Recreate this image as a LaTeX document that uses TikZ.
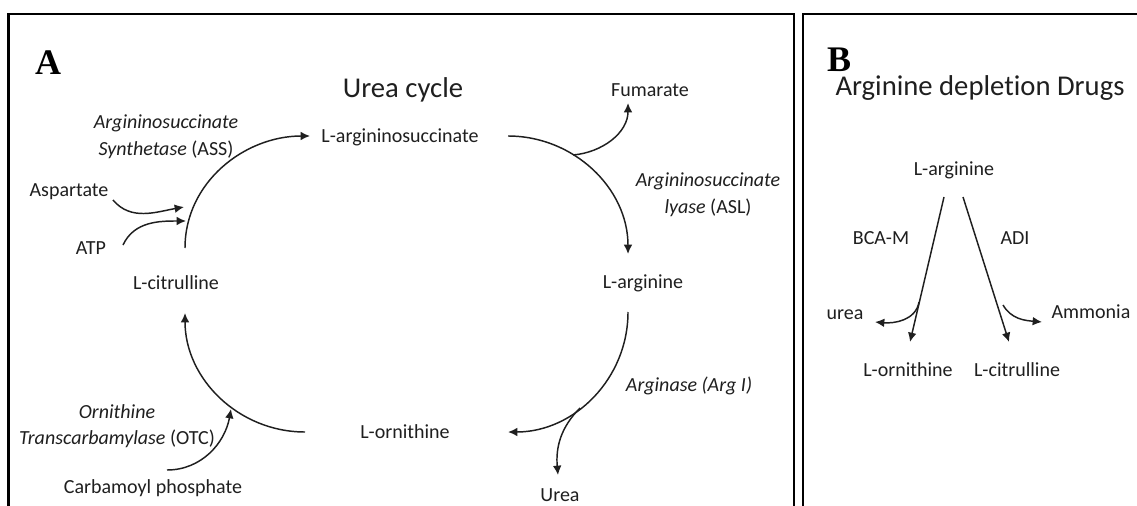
\documentclass[tikz,border=0pt]{standalone}
\usepackage{fontspec}
\setmainfont{Carlito}[Ligatures={NoCommon}]
\newfontfamily\panelfont{Liberation Serif}
\usetikzlibrary{arrows.meta}
\definecolor{txt}{gray}{0.12}
\begin{document}
\begin{tikzpicture}[x=0.75pt,y=-0.75pt,
  lbl/.style={inner sep=0pt, text=txt, font=\fontsize{15}{20}\selectfont},
  enz/.style={inner sep=0pt, text=txt, align=center, font=\fontsize{15}{20}\selectfont},
  ttl/.style={inner sep=0pt, text=txt, font=\fontsize{21.5}{26}\selectfont},
  panel/.style={inner sep=0pt, font=\panelfont\bfseries\fontsize{27}{32}\selectfont},
  conn/.style={line width=1.1pt, draw=txt, -{Latex[length=7pt,width=6.5pt]}},
  frame/.style={line width=2.2pt, draw=black}]
\clip (0,0) rectangle (1137,506);
\fill[white] (0,0) rectangle (1137,506);
% frames
\draw[frame] (8.5,530) -- (8.5,14) -- (794,14) -- (794,530);
\draw[frame] (803,530) -- (803,14) -- (1150,14);

% ---------- Panel A ----------
\node[panel] (A) at (48,63) {A};
\node[ttl] (ttlA) at (403,90) {Urea cycle};
\node[lbl] (asuc) at (400,137) {L-argininosuccinate};
\node[lbl] (fum) at (650,90) {Fumarate};
\node[enz] (asl) at (708,195) {\textit{Argininosuccinate}\\\textit{lyase} (ASL)};
\node[lbl] (arg) at (643,283) {L-arginine};
\node[enz] (argi) at (689,386) {\textit{Arginase (Arg I)}};
\node[lbl] (urea) at (560,495) {Urea};
\node[lbl] (orn) at (405,432) {L-ornithine};
\node[enz] (otc) at (117,426) {\textit{Ornithine}\\\textit{Transcarbamylase} (OTC)};
\node[lbl] (carb) at (153,488) {Carbamoyl phosphate};
\node[lbl] (cit) at (176,283) {L-citrulline};
\node[lbl] (asp) at (69,192) {Aspartate};
\node[lbl] (atp) at (91,248) {ATP};
\node[enz] (ass) at (166,137) {\textit{Argininosuccinate}\\\textit{Synthetase} (ASS)};

\coordinate (assS) at (185,248);
\coordinate (assE) at (310,136);
\coordinate (aspS) at (113,200);
\coordinate (aspE) at (184,207);
\coordinate (atpS) at (123,245);
\coordinate (atpE) at (186,221);
\coordinate (aslS) at (508,136);
\coordinate (aslE) at (628,254);
\coordinate (fumS) at (573,155);
\coordinate (fumE) at (628,103);
\coordinate (agsS) at (628,312);
\coordinate (agsE) at (508,432);
\coordinate (ureS) at (580,408);
\coordinate (ureE) at (558,475);
\coordinate (otcS) at (305,432);
\coordinate (otcE) at (185,313);
\coordinate (carS) at (167,470);
\coordinate (carE) at (231,409);

\draw[conn] (assS) to[out=90,in=180] (assE);
\draw[conn] (aspS) to[out=-50,in=190] (aspE);
\draw[conn] (atpS) to[out=65,in=180] (atpE);
\draw[conn] (aslS) to[out=0,in=90] (aslE);
\draw[conn] (fumS) to[out=5,in=-90] (fumE);
\draw[conn] (agsS) to[out=-90,in=0] (agsE);
\draw[conn] (ureS) to[out=-135,in=95] (ureE);
\draw[conn] (otcS) to[out=180,in=-90] (otcE);
\draw[conn] (carS) to[out=0,in=-100] (carE);

% ---------- Panel B ----------
\node[panel] (B) at (839,60) {B};
\node[ttl] (ttlB) at (980,88) {Arginine depletion Drugs};
\node[lbl] (argB) at (954,170) {L-arginine};
\node[lbl] (bca) at (881,238) {BCA-M};
\node[lbl] (adi) at (1015,238) {ADI};
\node[lbl] (ureaB) at (845,315) {urea};
\node[lbl] (amm) at (1091,312) {Ammonia};
\node[lbl] (ornB) at (908,370) {L-ornithine};
\node[lbl] (citB) at (1017,370) {L-citrulline};

\coordinate (bLS) at (944,197);
\coordinate (bLE) at (910,342);
\coordinate (bRS) at (963,197);
\coordinate (bRE) at (1009,342);
\coordinate (buS) at (919,302);
\coordinate (buE) at (875,322);
\coordinate (baS) at (1003,305);
\coordinate (baE) at (1042,322);

\draw[conn] (bLS) -- (bLE);
\draw[conn] (bRS) -- (bRE);
\draw[conn] (buS) to[out=-100,in=-5] (buE);
\draw[conn] (baS) to[out=-60,in=175] (baE);
\end{tikzpicture}
\end{document}
